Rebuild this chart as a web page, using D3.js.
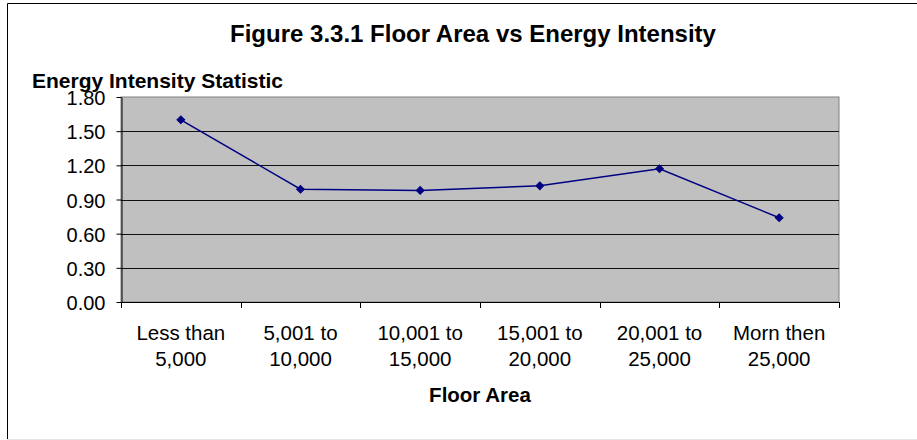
<!DOCTYPE html>
<html>
<head>
<meta charset="utf-8">
<script src="https://cdn.jsdelivr.net/npm/d3@7"></script>
<style>
  html, body { margin: 0; padding: 0; background: #fff; }
  svg { display: block; font-family: Arial, "Liberation Sans", sans-serif; }
</style>
</head>
<body>
<svg id="chart" width="917" height="440"></svg>
<script>
// Floor area bands and their energy intensity statistic
const categories = [
  ["Less than", "5,000"],
  ["5,001 to", "10,000"],
  ["10,001 to", "15,000"],
  ["15,001 to", "20,000"],
  ["20,001 to", "25,000"],
  ["Morn then", "25,000"]
];
const intensity = [1.60, 0.99, 0.98, 1.02, 1.17, 0.74];
const yTicks = [0, 0.3, 0.6, 0.9, 1.2, 1.5, 1.8];

const titleText = "Figure 3.3.1 Floor Area vs Energy Intensity";
const yTitleText = "Energy Intensity Statistic";
const xTitleText = "Floor Area";

const svg = d3.select("#chart");
const W = 917, H = 440;
const plot = { left: 121, right: 839, top: 97, bottom: 302 };

// outer chart frame (cropped on the right)
svg.append("line").attr("x1", 7.5).attr("x2", W).attr("y1", 3.5).attr("y2", 3.5)
  .attr("stroke", "#000").attr("stroke-width", 1);
svg.append("line").attr("x1", 7.5).attr("x2", 7.5).attr("y1", 3.5).attr("y2", 439)
  .attr("stroke", "#000").attr("stroke-width", 1);
svg.append("line").attr("x1", 7).attr("x2", W).attr("y1", 439.5).attr("y2", 439.5)
  .attr("stroke", "#e6e6e6").attr("stroke-width", 1);

const x = d3.scaleBand()
  .domain(categories.map((c, i) => i))
  .range([plot.left, plot.right])
  .paddingInner(0).paddingOuter(0);

const y = d3.scaleLinear().domain([0, 1.8]).range([plot.bottom, plot.top]);

// plot area background
svg.append("rect")
  .attr("x", plot.left).attr("y", plot.top)
  .attr("width", plot.right - plot.left).attr("height", plot.bottom - plot.top)
  .attr("fill", "#c0c0c0").attr("stroke", "#808080").attr("stroke-width", 1);

// horizontal gridlines
svg.append("g").selectAll("line")
  .data(yTicks.filter(t => t > 0 && t < 1.8))
  .join("line")
  .attr("x1", plot.left).attr("x2", plot.right)
  .attr("y1", d => Math.round(y(d)) + 0.5).attr("y2", d => Math.round(y(d)) + 0.5)
  .attr("stroke", "#111").attr("stroke-width", 1);

// y axis
const yAxis = svg.append("g")
  .attr("transform", `translate(${plot.left + 0.5},0)`)
  .call(d3.axisLeft(y).tickValues(yTicks).tickFormat(d3.format(".2f"))
    .tickSizeInner(5).tickSizeOuter(0).tickPadding(11));
yAxis.select(".domain").attr("stroke", "#000");
yAxis.selectAll(".tick line").attr("stroke", "#000");
yAxis.selectAll(".tick text")
  .attr("font-size", 20).attr("fill", "#000")
  .attr("font-family", "Arial, 'Liberation Sans', sans-serif")
  .attr("dy", "0.38em");

// x axis with ticks at band boundaries
const boundaries = d3.range(categories.length + 1).map(i => plot.left + i * x.bandwidth());
const xAxisG = svg.append("g");
xAxisG.append("line")
  .attr("x1", plot.left).attr("x2", plot.right)
  .attr("y1", plot.bottom + 0.5).attr("y2", plot.bottom + 0.5)
  .attr("stroke", "#000");
xAxisG.selectAll("line.tk").data(boundaries).join("line")
  .attr("class", "tk")
  .attr("x1", d => Math.round(d) + 0.5).attr("x2", d => Math.round(d) + 0.5)
  .attr("y1", plot.bottom).attr("y2", plot.bottom + 6)
  .attr("stroke", "#000");

// category labels (two lines each)
const catLabels = svg.append("g").selectAll("text")
  .data(categories)
  .join("text")
  .attr("x", (d, i) => x(i) + x.bandwidth() / 2)
  .attr("y", 340)
  .attr("text-anchor", "middle")
  .attr("font-size", 20.5)
  .attr("fill", "#000");
catLabels.each(function(d) {
  const t = d3.select(this);
  t.append("tspan").attr("x", t.attr("x")).attr("dy", 0).text(d[0]);
  t.append("tspan").attr("x", t.attr("x")).attr("dy", 25.5).text(d[1]);
});

// data line
const line = d3.line()
  .x((d, i) => x(i) + x.bandwidth() / 2)
  .y(d => y(d));
svg.append("path")
  .datum(intensity)
  .attr("d", line)
  .attr("fill", "none")
  .attr("stroke", "#000080")
  .attr("stroke-width", 1.5);

// diamond markers: squares turned 45 degrees
svg.append("g").selectAll("path")
  .data(intensity)
  .join("path")
  .attr("d", d3.symbol().type(d3.symbolSquare).size(30))
  .attr("transform", (d, i) => `translate(${x(i) + x.bandwidth() / 2},${y(d)}) rotate(45)`)
  .attr("fill", "#000080")
  .attr("stroke", "#000080")
  .attr("stroke-width", 1);

// titles
svg.append("text")
  .attr("x", 473).attr("y", 42)
  .attr("text-anchor", "middle")
  .attr("font-size", 24).attr("font-weight", "bold")
  .attr("fill", "#000")
  .text(titleText);

svg.append("text")
  .attr("x", 32).attr("y", 88)
  .attr("font-size", 21).attr("font-weight", "bold")
  .attr("fill", "#000")
  .text(yTitleText);

svg.append("text")
  .attr("x", (plot.left + plot.right) / 2).attr("y", 402)
  .attr("text-anchor", "middle")
  .attr("font-size", 20.5).attr("font-weight", "bold")
  .attr("fill", "#000")
  .text(xTitleText);
</script>
</body>
</html>
